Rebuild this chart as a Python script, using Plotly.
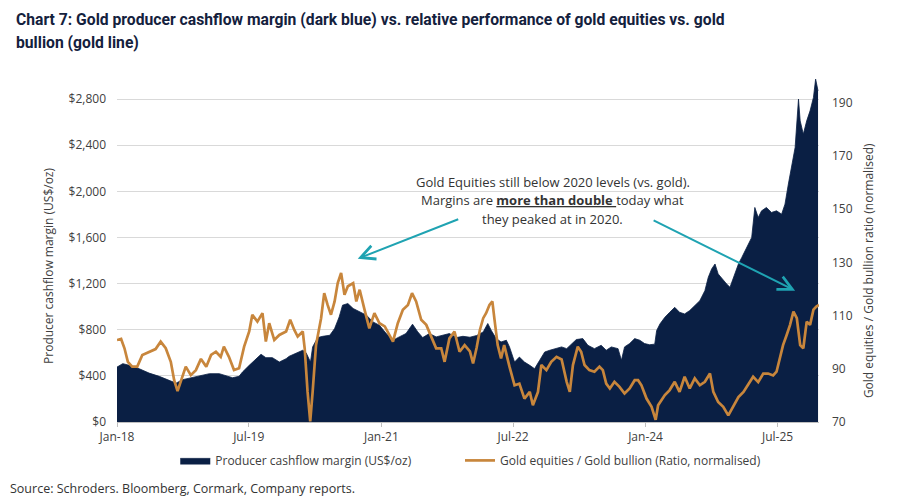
import plotly.graph_objects as go

# ---------------- data ----------------
margin_dates = [
    "2018-01-01", "2018-01-25", "2018-02-21", "2018-04-03", "2018-05-14", "2018-06-25",
    "2018-08-05", "2018-09-03", "2018-09-30", "2018-11-10", "2018-12-21", "2019-01-19",
    "2019-03-01", "2019-03-28", "2019-04-25", "2019-05-22", "2019-06-05", "2019-07-03",
    "2019-07-31", "2019-08-21", "2019-09-10", "2019-10-07", "2019-11-05", "2019-12-03",
    "2019-12-16", "2020-01-13", "2020-02-10", "2020-02-24", "2020-03-13", "2020-03-22",
    "2020-04-12", "2020-05-03", "2020-06-01", "2020-06-21", "2020-07-10", "2020-07-24",
    "2020-08-15", "2020-09-06", "2020-10-03", "2020-10-31", "2020-11-27", "2020-12-24",
    "2021-01-21", "2021-02-18", "2021-03-16", "2021-04-13", "2021-05-10", "2021-06-01",
    "2021-06-21", "2021-07-19", "2021-08-16", "2021-09-13", "2021-10-10", "2021-11-08",
    "2021-12-05", "2022-01-03", "2022-01-31", "2022-02-27", "2022-03-18", "2022-04-01",
    "2022-04-22", "2022-05-12", "2022-06-03", "2022-06-16", "2022-07-07", "2022-07-27",
    "2022-08-17", "2022-09-08", "2022-09-28", "2022-10-19", "2022-11-09", "2022-11-30",
    "2022-12-28", "2023-01-18", "2023-02-08", "2023-02-28", "2023-03-20", "2023-04-16",
    "2023-05-07", "2023-06-03", "2023-07-01", "2023-07-22", "2023-08-12", "2023-09-09",
    "2023-09-23", "2023-10-06", "2023-10-27", "2023-11-17", "2023-12-08", "2023-12-28",
    "2024-01-18", "2024-02-08", "2024-02-16", "2024-03-01", "2024-03-21", "2024-04-10",
    "2024-05-01", "2024-05-21", "2024-06-11", "2024-07-02", "2024-07-23", "2024-08-13",
    "2024-09-03", "2024-09-17", "2024-10-01", "2024-10-15", "2024-10-28", "2024-11-18",
    "2024-12-02", "2024-12-16", "2025-01-06", "2025-01-20", "2025-02-03", "2025-02-24",
    "2025-03-16", "2025-03-29", "2025-04-12", "2025-04-26", "2025-05-16", "2025-06-06",
    "2025-06-27", "2025-07-18", "2025-08-01", "2025-08-15", "2025-08-29", "2025-09-12",
    "2025-09-26", "2025-10-03", "2025-10-16", "2025-10-30", "2025-11-13", "2025-11-27",
    "2025-12-06", "2025-12-16",
]
margin_values = [
    476, 506, 491, 462, 424, 396,
    361, 337, 367, 384, 404, 419,
    419, 404, 384, 396, 433, 491,
    541, 587, 558, 558, 520, 549,
    570, 593, 622, 600, 520, 651,
    732, 743, 752, 810, 911, 1013,
    1027, 984, 955, 926, 868, 839,
    767, 709, 738, 767, 848, 781,
    732, 767, 738, 752, 767, 732,
    743, 735, 750, 781, 854, 796,
    723, 694, 709, 651, 520, 563,
    520, 491, 462, 535, 607, 622,
    636, 651, 636, 680, 715, 723,
    665, 636, 665, 622, 651, 636,
    535, 651, 680, 723, 709, 680,
    670, 675, 793, 851, 908, 951,
    994, 951, 937, 966, 1009, 1052,
    1139, 1254, 1327, 1370, 1284, 1226,
    1197, 1168, 1284, 1370, 1427, 1514,
    1600, 1860, 1773, 1831, 1860, 1817,
    1831, 1802, 1889, 2063, 2207, 2380,
    2800, 2611, 2496, 2611, 2698, 2814,
    2973, 2871,
]

ratio_dates = [
    "2018-01-01", "2018-01-18", "2018-02-01", "2018-02-15", "2018-03-05", "2018-03-26",
    "2018-04-16", "2018-05-14", "2018-06-10", "2018-07-01", "2018-07-22", "2018-08-12",
    "2018-08-26", "2018-09-09", "2018-09-23", "2018-10-13", "2018-11-03", "2018-11-24",
    "2018-12-15", "2019-01-06", "2019-01-26", "2019-02-15", "2019-03-07", "2019-03-20",
    "2019-04-10", "2019-05-01", "2019-05-22", "2019-06-12", "2019-07-03", "2019-07-16",
    "2019-08-06", "2019-08-27", "2019-09-10", "2019-09-24", "2019-10-15", "2019-11-05",
    "2019-12-03", "2019-12-20", "2020-01-06", "2020-01-20", "2020-02-10", "2020-02-18",
    "2020-03-01", "2020-03-12", "2020-03-22", "2020-04-05", "2020-04-26", "2020-05-09",
    "2020-05-23", "2020-06-06", "2020-06-21", "2020-07-04", "2020-07-18", "2020-08-01",
    "2020-08-15", "2020-09-06", "2020-09-19", "2020-10-03", "2020-10-23", "2020-11-12",
    "2020-12-03", "2020-12-24", "2021-01-15", "2021-02-05", "2021-02-18", "2021-03-10",
    "2021-03-31", "2021-04-21", "2021-05-08", "2021-05-25", "2021-06-15", "2021-07-06",
    "2021-07-26", "2021-08-16", "2021-09-06", "2021-09-20", "2021-10-10", "2021-10-31",
    "2021-11-21", "2021-12-12", "2022-01-03", "2022-01-16", "2022-01-31", "2022-02-13",
    "2022-02-27", "2022-03-11", "2022-03-25", "2022-04-06", "2022-04-15", "2022-04-28",
    "2022-05-12", "2022-05-25", "2022-06-16", "2022-07-07", "2022-07-27", "2022-08-17",
    "2022-09-08", "2022-09-21", "2022-10-12", "2022-10-26", "2022-11-16", "2022-12-06",
    "2022-12-28", "2023-01-18", "2023-02-08", "2023-02-21", "2023-03-06", "2023-03-26",
    "2023-04-09", "2023-04-23", "2023-05-13", "2023-06-03", "2023-06-24", "2023-07-08",
    "2023-07-22", "2023-08-06", "2023-08-25", "2023-09-15", "2023-10-06", "2023-10-27",
    "2023-11-17", "2023-12-01", "2023-12-15", "2024-01-05", "2024-01-26", "2024-02-12",
    "2024-02-22", "2024-03-01", "2024-03-21", "2024-04-10", "2024-05-01", "2024-05-21",
    "2024-06-11", "2024-07-02", "2024-07-23", "2024-08-13", "2024-09-03", "2024-09-24",
    "2024-10-08", "2024-10-28", "2024-11-18", "2024-12-09", "2025-01-01", "2025-01-20",
    "2025-02-10", "2025-03-01", "2025-03-22", "2025-04-12", "2025-05-03", "2025-05-23",
    "2025-06-13", "2025-06-27", "2025-07-10", "2025-07-24", "2025-08-08", "2025-08-22",
    "2025-09-05", "2025-09-19", "2025-10-03", "2025-10-16", "2025-10-30", "2025-11-13",
    "2025-11-27", "2025-12-09", "2025-12-20",
]
ratio_values = [
    100.8, 101.2, 97.7, 92.6, 90.8, 90.8,
    95.2, 96.4, 97.4, 100.2, 97.7, 92.6,
    85.7, 81.6, 85.7, 90.8, 87.6, 89.5,
    93.7, 90.8, 95.2, 96.4, 94.5, 98.3,
    94.5, 89.5, 90.2, 98.3, 104.0, 110.3,
    107.7, 110.9, 100.2, 107.1, 100.8, 102.7,
    104.0, 108.4, 104.6, 102.1, 104.0, 97.7,
    81.3, 70.2, 81.3, 98.9, 109.0, 118.4,
    114.0, 110.3, 115.3, 122.2, 126.0, 117.8,
    121.0, 122.2, 115.3, 119.7, 112.2, 105.2,
    110.9, 107.1, 105.9, 102.7, 100.2, 107.1,
    112.2, 114.0, 118.4, 115.3, 108.4, 106.5,
    102.1, 97.7, 97.7, 92.6, 101.4, 104.0,
    96.4, 98.9, 96.5, 92.0, 98.0, 104.5,
    109.0, 110.9, 114.0, 115.3, 108.4, 98.9,
    93.9, 98.9, 90.8, 83.8, 84.4, 78.8,
    81.3, 76.3, 81.3, 91.4, 89.5, 92.6,
    94.5, 93.5, 85.1, 81.3, 91.4, 98.3,
    96.4, 91.4, 89.5, 88.9, 90.8, 89.5,
    84.4, 82.6, 85.1, 83.2, 80.7, 82.6,
    85.7, 85.7, 83.8, 78.8, 75.7, 70.8,
    76.3, 77.5, 80.1, 82.0, 85.1, 81.3,
    87.0, 82.6, 86.4, 83.8, 85.1, 88.2,
    81.3, 77.5, 75.7, 72.5, 76.3, 79.4,
    81.3, 83.8, 87.0, 85.0, 88.2, 88.2,
    87.5, 88.9, 93.9, 98.9, 102.7, 106.5,
    111.5, 109.0, 98.9, 97.7, 107.7, 106.5,
    112.2, 113.4, 114.0,
]

x_tick_dates = ["2018-01-01", "2019-07-01", "2021-01-01", "2022-07-01", "2024-01-01", "2025-07-01"]
x_tick_labels = ["Jan-18", "Jul-19", "Jan-21", "Jul-22", "Jan-24", "Jul-25"]
left_ticks = [0, 400, 800, 1200, 1600, 2000, 2400, 2800]
left_tick_labels = ["$0", "$400", "$800", "$1,200", "$1,600", "$2,000", "$2,400", "$2,800"]
right_ticks = [70, 90, 110, 130, 150, 170, 190]

# ---------------- styling ----------------
NAVY = "#0a1f44"
GOLD = "#c8863c"
TEAL = "#1fa3b2"
TXT = "#404040"
FONT = "Open Sans, Noto Sans, sans-serif"
TITLE_FONT = dict(family="Liberation Sans Narrow, Roboto, sans-serif", size=15.7,
                  color="#14213d", weight="bold")

fig = go.Figure()
fig.add_trace(go.Scatter(
    x=margin_dates, y=margin_values, name="Producer cashflow margin (US$/oz)",
    mode="lines", fill="tozeroy", fillcolor=NAVY, line=dict(color=NAVY, width=0.8),
    legend="legend",
))
fig.add_trace(go.Scatter(
    x=ratio_dates, y=ratio_values, name="Gold equities / Gold bullion (Ratio, normalised)",
    mode="lines", yaxis="y2", line=dict(color=GOLD, width=2.7),
    legend="legend2",
))

# page body has an 8px margin, so the figure is drawn 8px smaller and offset
fig.update_layout(
    width=895, height=494,
    margin=dict(l=109, r=84, t=68, b=80),
    paper_bgcolor="white", plot_bgcolor="white",
    font=dict(family=FONT, size=12, color=TXT),
    xaxis=dict(
        type="date", range=["2018-01-01", "2025-12-20"],
        tickvals=x_tick_dates, ticktext=x_tick_labels,
        ticks="outside", ticklen=4, tickcolor="#bfbfbf",
        showline=True, linecolor="#bfbfbf", linewidth=1,
        showgrid=False, zeroline=False,
        tickfont=dict(size=12, color=TXT),
    ),
    yaxis=dict(
        range=[0, 3000], tickvals=left_ticks, ticktext=left_tick_labels,
        showgrid=True, gridcolor="#d9d9d9", gridwidth=1, zeroline=False,
        ticklabelstandoff=10,
        tickfont=dict(size=12, color=TXT),
    ),
    yaxis2=dict(
        overlaying="y", side="right", range=[70, 200], tickvals=right_ticks,
        showgrid=False, zeroline=False, ticklabelstandoff=12,
        tickfont=dict(size=12, color=TXT),
    ),
    legend=dict(
        orientation="h", x=0.083, xanchor="left", y=-0.111, yanchor="middle",
        font=dict(size=12, color=TXT), bgcolor="rgba(0,0,0,0)",
    ),
    legend2=dict(
        orientation="h", x=0.4886, xanchor="left", y=-0.111, yanchor="middle",
        font=dict(size=12, color=TXT), bgcolor="rgba(0,0,0,0)",
    ),
    showlegend=True,
)

# axis titles (placed as rotated annotations to match the reference's vertical position)
fig.add_annotation(
    text="Producer cashflow margin (US$/oz)", textangle=-90,
    xref="paper", yref="paper", x=-0.0969, y=0.451, xanchor="center", yanchor="middle",
    showarrow=False, font=dict(family=FONT, size=12, color=TXT),
)
fig.add_annotation(
    text="Gold equities / Gold bullion ratio (normalised)", textangle=-90,
    xref="paper", yref="paper", x=1.0698, y=0.439, xanchor="center", yanchor="middle",
    showarrow=False, font=dict(family=FONT, size=12, color=TXT),
)

# title (two lines)
fig.add_annotation(
    text="Chart 7: Gold producer cashflow margin (dark blue) vs. relative performance of gold equities vs. gold",
    xref="paper", yref="paper", x=-0.1467, y=1.162, xanchor="left", yanchor="middle",
    showarrow=False, font=TITLE_FONT,
)
fig.add_annotation(
    text="bullion (gold line)",
    xref="paper", yref="paper", x=-0.1467, y=1.098, xanchor="left", yanchor="middle",
    showarrow=False, font=TITLE_FONT,
)

# annotation text block
note_lines = [
    "Gold Equities still below 2020 levels (vs. gold).",
    "Margins are <b><u>more than double </u></b>today what",
    "they peaked at in 2020.",
]
note_y = [0.694, 0.642, 0.587]
for line, yy in zip(note_lines, note_y):
    fig.add_annotation(
        text=line, xref="paper", yref="paper", x=0.621, y=yy,
        xanchor="center", yanchor="middle", showarrow=False,
        font=dict(family=FONT, size=13, color="#333333"),
    )

# arrows
fig.add_annotation(
    x="2020-09-25", y=1416, xref="x", yref="y", ax=102, ay=-40, axref="pixel", ayref="pixel",
    text="", showarrow=True, arrowhead=5, arrowsize=1.4, arrowwidth=2, arrowcolor=TEAL,
)
fig.add_annotation(
    x="2025-09-12", y=1139, xref="x", yref="y", ax=-143, ay=-71, axref="pixel", ayref="pixel",
    text="", showarrow=True, arrowhead=5, arrowsize=1.4, arrowwidth=2, arrowcolor=TEAL,
)

# source
fig.add_annotation(
    text="Source: Schroders. Bloomberg, Cormark, Company reports.",
    xref="paper", yref="paper", x=-0.1553, y=-0.1936, xanchor="left", yanchor="middle",
    showarrow=False, font=dict(family=FONT, size=12.5, color="#333333"),
)

fig.write_html("out.html")
